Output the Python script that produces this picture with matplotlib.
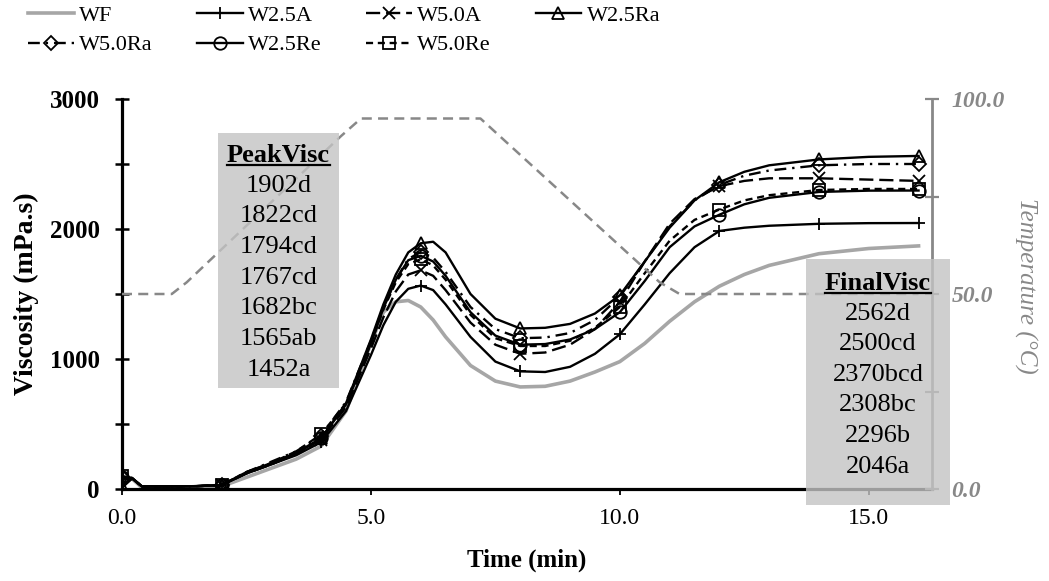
import numpy as np
import matplotlib
matplotlib.use('Agg')
import matplotlib.pyplot as plt
from matplotlib.patches import Rectangle
from matplotlib.lines import Line2D

plt.rcParams['font.family'] = 'Liberation Serif'

# time (min) of the viscosity readings, markers every 2 min
t = [0, 0.2, 0.4, 1, 1.5, 2, 2.5, 3, 3.5, 4, 4.5, 5, 5.25, 5.5, 5.75, 6, 6.25, 6.5,
     7, 7.5, 8, 8.5, 9, 9.5, 10, 10.5, 11, 11.5, 12, 12.5, 13, 14, 15, 16]
t_mark = [0, 2, 4, 6, 8, 10, 12, 14, 16]

# viscosity (mPa.s)
wf = [60, 80, 10, 10, 12, 20, 90, 160, 230, 330, 600, 1120, 1360, 1440, 1450, 1400, 1300, 1170,
      950, 830, 785, 790, 830, 900, 980, 1120, 1290, 1440, 1560, 1650, 1720, 1810, 1850, 1870]
w25a = [80, 85, 20, 20, 22, 30, 120, 190, 260, 360, 600, 1030, 1260, 1440, 1540, 1565, 1530, 1420,
        1170, 980, 905, 900, 940, 1040, 1190, 1420, 1660, 1860, 1985, 2010, 2025, 2040, 2045, 2046]
w50a = [10, 80, 20, 20, 22, 30, 120, 190, 270, 380, 630, 1080, 1320, 1520, 1650, 1682, 1640, 1530,
        1280, 1110, 1040, 1050, 1110, 1230, 1440, 1750, 2040, 2230, 2330, 2370, 2390, 2390, 2380, 2370]
w25ra = [20, 80, 20, 20, 22, 30, 130, 200, 280, 390, 660, 1150, 1420, 1650, 1820, 1890, 1902, 1820,
         1500, 1310, 1235, 1240, 1270, 1350, 1490, 1750, 2010, 2220, 2360, 2440, 2490, 2535, 2555, 2562]
w50ra = [90, 85, 20, 20, 22, 30, 130, 210, 290, 410, 670, 1140, 1400, 1610, 1770, 1822, 1780, 1670,
         1400, 1230, 1160, 1165, 1200, 1300, 1480, 1750, 2020, 2220, 2340, 2410, 2450, 2490, 2500, 2500]
w25re = [90, 85, 20, 20, 22, 30, 120, 190, 270, 390, 650, 1120, 1390, 1610, 1760, 1794, 1750, 1640,
         1360, 1180, 1110, 1115, 1150, 1230, 1360, 1600, 1860, 2020, 2110, 2190, 2240, 2285, 2295, 2296]
w50re = [100, 85, 20, 20, 22, 30, 130, 200, 290, 420, 660, 1120, 1380, 1590, 1730, 1767, 1720, 1610,
         1340, 1160, 1100, 1100, 1140, 1240, 1400, 1660, 1910, 2070, 2150, 2220, 2260, 2300, 2308, 2308]

# RVA temperature profile
temp_t = [0, 1.0, 1.3, 4.4, 4.8, 7.2, 7.5, 10.8, 11.2, 16]
temp = [50, 50, 53, 90.5, 95, 95, 91.5, 53, 50, 50]

peak_labels = ['1902d', '1822cd', '1794cd', '1767cd', '1682bc', '1565ab', '1452a']
final_labels = ['2562d', '2500cd', '2370bcd', '2308bc', '2296b', '2046a']

W, H = 1049, 581
fig = plt.figure(figsize=(W / 100, H / 100), dpi=100)
ax = fig.add_axes([122 / W, 1 - 489 / H, 810 / W, 390 / H])
ax2 = ax.twinx()

grey_t = '#888888'
idx = [t.index(m) for m in t_mark]

series = [
    ('WF', wf, dict(color='#a6a6a6', lw=2.6, marker=None)),
    ('W2.5A', w25a, dict(color='k', lw=1.7, marker='+')),
    ('W5.0A', w50a, dict(color='k', lw=1.7, marker='x', dashes=(6, 2.5))),
    ('W2.5Ra', w25ra, dict(color='k', lw=1.7, marker='^')),
    ('W5.0Ra', w50ra, dict(color='k', lw=1.7, marker='D', dashes=(5, 2.5, 1, 2.5))),
    ('W2.5Re', w25re, dict(color='k', lw=1.7, marker='o')),
    ('W5.0Re', w50re, dict(color='k', lw=1.7, marker='s', dashes=(3, 2))),
]

handles = {}
for name, vals, st in series:
    kw = dict(color=st['color'], lw=st['lw'])
    if 'dashes' in st:
        kw['dashes'] = st['dashes']
    mk = st['marker']
    msz = 7 if mk == 'D' else 9
    if mk is not None:
        kw.update(marker=mk, markevery=idx, markersize=msz, markerfacecolor='none',
                  markeredgecolor='k', markeredgewidth=1.3)
    ax.plot(t, vals, **kw)
    hk = dict(color=st['color'], lw=st['lw'])
    if 'dashes' in st:
        hk['dashes'] = st['dashes']
    if mk is not None:
        hk.update(marker=mk, markersize=msz, markerfacecolor='none',
                  markeredgecolor='k', markeredgewidth=1.3)
    handles[name] = Line2D([], [], **hk)

ax2.plot(temp_t, temp, color=grey_t, lw=1.8, dashes=(4, 2.5))

ax.set_xlim(0, 16.27)
ax.set_ylim(0, 3000)
ax2.set_ylim(0, 100)

for s in ['top', 'right']:
    ax.spines[s].set_visible(False)
ax2.spines['top'].set_visible(False)
ax2.spines['left'].set_visible(False)
ax2.spines['bottom'].set_visible(False)
ax.spines['left'].set_linewidth(2.3)
ax.spines['bottom'].set_linewidth(2.3)
ax2.spines['right'].set_linewidth(2.0)
ax2.spines['right'].set_color(grey_t)

ax.set_yticks(np.arange(0, 3001, 500))
ax.set_yticklabels(['0', '', '1000', '', '2000', '', '3000'], fontweight='bold', fontsize=18)
ax.tick_params(axis='y', direction='inout', length=10, width=1.8, pad=11)
ax.set_xticks([0, 5, 10, 15])
ax.set_xticklabels(['0.0', '5.0', '10.0', '15.0'], fontsize=17)
ax.tick_params(axis='x', direction='out', length=4, width=1.3, pad=10)

ax2.set_yticks([0, 25, 50, 75, 100])
ax2.set_yticklabels(['0.0', '', '50.0', '', '100.0'], fontsize=17,
                    fontweight='bold', fontstyle='italic', color=grey_t)
ax2.tick_params(axis='y', direction='inout', length=10, width=1.6, color=grey_t, pad=9)

ax.set_ylabel('Viscosity (mPa.s)', fontsize=20, fontweight='bold', va='center')
ax.yaxis.set_label_coords(-0.118, 0.5)
ax.set_xlabel('Time (min)', fontsize=18, fontweight='bold', va='center')
ax.xaxis.set_label_coords(0.5, -0.182)
ax2.set_ylabel('Temperature (°C)', fontsize=18, fontstyle='italic', color=grey_t,
               rotation=270, va='center')
ax2.yaxis.set_label_coords(1.115, 0.52)

order = ['WF', 'W5.0Ra', 'W2.5A', 'W2.5Re', 'W5.0A', 'W5.0Re', 'W2.5Ra']
fig.legend([handles[n] for n in order], order, loc='upper left',
           bbox_to_anchor=(28 / W, 1 - 5 / H), ncol=4, frameon=False, fontsize=16,
           handlelength=2.05, handletextpad=0.25, columnspacing=2.0, labelspacing=0.42,
           borderpad=0, borderaxespad=0)


def fx(x):
    return x / W


def fy(y):
    return 1 - y / H


def stat_box(x0, y0, x1, y1, header, rows, hy, dy):
    fig.add_artist(Rectangle((fx(x0), fy(y1)), fx(x1) - fx(x0), fy(y0) - fy(y1),
                             transform=fig.transFigure, facecolor='#c4c4c4',
                             edgecolor='none', alpha=0.8))
    xc = (x0 + x1) / 2
    ht = fig.text(fx(xc), fy(hy), header, ha='center', va='center',
                  fontsize=19, fontweight='bold')
    for i, r in enumerate(rows):
        fig.text(fx(xc), fy(hy + dy * (i + 1)), r, ha='center', va='center', fontsize=19)
    return ht


h1 = stat_box(218, 133, 339, 388, 'PeakVisc', peak_labels, 155, 30.7)
h2 = stat_box(806, 259, 950, 505, 'FinalVisc', final_labels, 283, 30.6)

fig.canvas.draw()
r = fig.canvas.get_renderer()
for h in (h1, h2):
    bb = h.get_window_extent(r)
    yy = (bb.y0 + 2) / H
    fig.add_artist(Line2D([bb.x0 / W, bb.x1 / W], [yy, yy], transform=fig.transFigure,
                          color='k', lw=1.6))

fig.savefig('out.png', dpi=100)
